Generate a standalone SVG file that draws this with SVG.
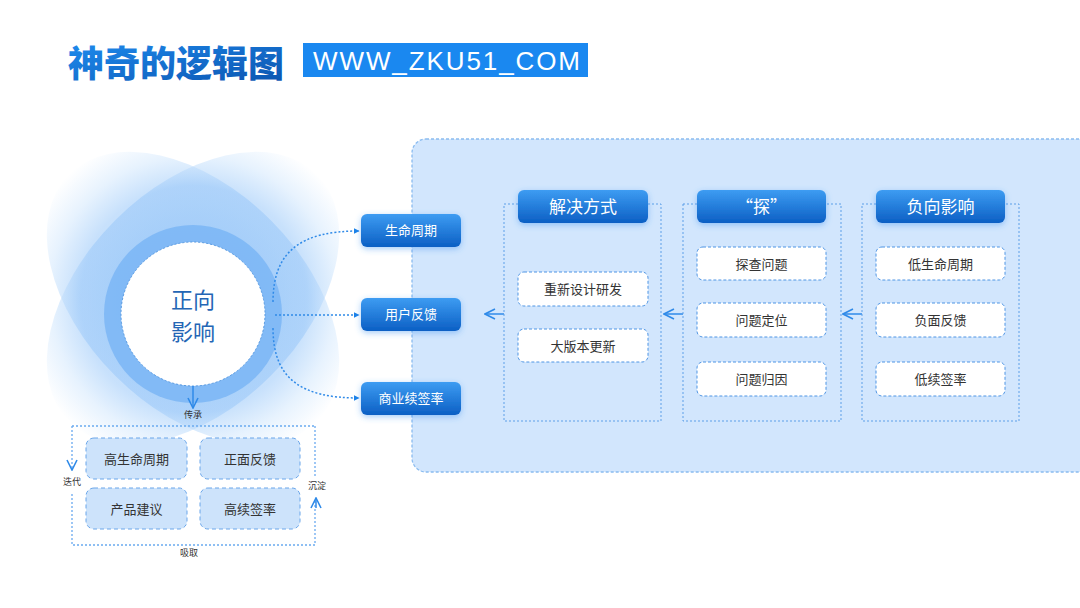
<svg xmlns="http://www.w3.org/2000/svg" width="1080" height="608" viewBox="0 0 1080 608">
<defs>
<linearGradient id="titleG" x1="0" y1="0" x2="1" y2="1">
<stop offset="0" stop-color="#1f8ff2"/><stop offset="1" stop-color="#0b52ad"/>
</linearGradient>
<linearGradient id="btnG" x1="0" y1="0" x2="0" y2="1">
<stop offset="0" stop-color="#3d9cf2"/><stop offset="1" stop-color="#0c5fc4"/>
</linearGradient>
<radialGradient id="petalG" cx="193" cy="300" r="175" gradientUnits="userSpaceOnUse">
<stop offset="0" stop-color="#7db8f6"/><stop offset="0.65" stop-color="#9ac8f9"/><stop offset="0.82" stop-color="#d3e8fd"/><stop offset="1" stop-color="#ffffff"/>
</radialGradient>
<filter id="glow" x="-20%" y="-30%" width="140%" height="170%">
<feDropShadow dx="0" dy="2" stdDeviation="3" flood-color="#3a8ff0" flood-opacity="0.45"/>
</filter>
<marker id="tri" viewBox="0 0 10 10" refX="9" refY="5" markerWidth="6" markerHeight="6" orient="auto" markerUnits="userSpaceOnUse">
<path d="M0,0 L10,5 L0,10 z" fill="#1a80e8"/>
</marker>
<marker id="chev" viewBox="0 0 12 12" refX="11" refY="6" markerWidth="12" markerHeight="12" orient="auto" markerUnits="userSpaceOnUse">
<path d="M1,1 L11,6 L1,11" fill="none" stroke="#2f8ae8" stroke-width="1.6"/>
</marker>
</defs>
<style>
.cjk{font-family:"Noto Sans CJK SC","Noto Sans",sans-serif;}
.btn{fill:url(#btnG);filter:url(#glow);}
.btxt{fill:#ffffff;font-size:13px;text-anchor:middle;}
.htxt{fill:#ffffff;font-size:17px;text-anchor:middle;}
.grp{fill:none;stroke:#5c9fe8;stroke-width:1;stroke-dasharray:2 2;}
.item{fill:#ffffff;stroke:#4f95e4;stroke-width:1;stroke-dasharray:3 2;}
.itxt{fill:#333333;font-size:13px;text-anchor:middle;}
.litem{fill:#cde3fb;stroke:#6aa6ea;stroke-width:1;stroke-dasharray:4 3;}
.small{fill:#333333;font-size:9px;text-anchor:middle;}
.dash{fill:none;stroke:#2f8ae8;stroke-width:1.5;stroke-dasharray:2 2;}
.solid{fill:none;stroke:#2f8ae8;stroke-width:1.5;}
.ldash{fill:none;stroke:#6aaaf0;stroke-width:1.3;stroke-dasharray:2 2;}
.petal{fill:url(#petalG);opacity:0.55;}
</style>
<rect width="1080" height="608" fill="#ffffff"/>

<g id="title">
<text x="68" y="77" class="cjk" font-size="36" font-weight="900" fill="url(#titleG)">神奇的逻辑图</text>
<rect x="303" y="43" width="285" height="34" fill="#1a88f0"/>
<text x="313" y="70" font-family="'Liberation Sans',Arial,sans-serif" font-size="26" fill="#ffffff" textLength="267" lengthAdjust="spacing">WWW_ZKU51_COM</text>
</g>

<g id="panel">
<rect x="412" y="139" width="700" height="333" rx="14" fill="#d2e6fd" stroke="#8bbcf0" stroke-width="1.3" stroke-dasharray="3 2"/>
</g>

<g id="center-node">
<ellipse class="petal" cx="193" cy="298" rx="175" ry="110" transform="rotate(45 193 298)"/>
<ellipse class="petal" cx="193" cy="298" rx="175" ry="110" transform="rotate(-45 193 298)"/>
<circle cx="193" cy="314" r="89" fill="#7db7f5" opacity="0.9"/>
<circle cx="193" cy="314" r="72" fill="#ffffff" stroke="#5a9ae0" stroke-width="1" stroke-dasharray="2 2"/>
<text x="193" y="308" class="cjk" font-size="22" fill="#2466b5" text-anchor="middle">正向</text>
<text x="193" y="340" class="cjk" font-size="22" fill="#2466b5" text-anchor="middle">影响</text>
</g>

<g id="connectors">
<path class="dash" d="M273,302 C273,252 300,231 359,231" marker-end="url(#tri)"/>
<path class="dash" d="M275,315 L359,315" marker-end="url(#tri)"/>
<path class="dash" d="M273,328 C273,378 300,398 359,398" marker-end="url(#tri)"/>
<path class="solid" d="M862,314 L843,314" marker-end="url(#chev)"/>
<path class="solid" d="M683,314 L664,314" marker-end="url(#chev)"/>
<path class="solid" d="M504,314 L485,314" marker-end="url(#chev)"/>
<path class="solid" d="M193,386 L193,408" marker-end="url(#chev)"/>
<path class="ldash" d="M72,426 L315,426"/>
<path class="ldash" d="M72,426 L72,470" marker-end="url(#chev)"/>
<path class="ldash" d="M72,494 L72,545 L315,545 L315,500"/>
<path class="solid" d="M316,508 L316,498" marker-end="url(#chev)"/>
<path class="ldash" d="M315,426 L315,476"/>
</g>

<g id="labels-left" class="cjk">
<text x="193" y="418" class="small">传承</text>
<text x="72" y="485" class="small">迭代</text>
<text x="317" y="489" class="small">沉淀</text>
<text x="189" y="556" class="small">吸取</text>
</g>

<g id="node-high-life" class="cjk"><rect class="litem" x="86" y="438" width="101" height="41" rx="8"/><text x="136.5" y="464" class="itxt">高生命周期</text></g>
<g id="node-pos-feedback" class="cjk"><rect class="litem" x="200" y="438" width="100" height="41" rx="8"/><text x="250" y="464" class="itxt">正面反馈</text></g>
<g id="node-product" class="cjk"><rect class="litem" x="86" y="488" width="101" height="41" rx="8"/><text x="136.5" y="514" class="itxt">产品建议</text></g>
<g id="node-high-renew" class="cjk"><rect class="litem" x="200" y="488" width="100" height="41" rx="8"/><text x="250" y="514" class="itxt">高续签率</text></g>

<g id="node-lifecycle" class="cjk"><rect class="btn" x="361" y="214" width="100" height="33" rx="6"/><text x="411" y="235" class="btxt">生命周期</text></g>
<g id="node-feedback" class="cjk"><rect class="btn" x="361" y="298" width="100" height="33" rx="6"/><text x="411" y="319" class="btxt">用户反馈</text></g>
<g id="node-renew" class="cjk"><rect class="btn" x="361" y="382" width="100" height="33" rx="6"/><text x="411" y="403" class="btxt">商业续签率</text></g>

<g id="group-solution" class="cjk">
<rect class="grp" x="504" y="204" width="157" height="217"/>
<rect class="btn" x="518" y="190" width="130" height="33" rx="6"/>
<text x="583" y="213" class="htxt">解决方式</text>
<rect class="item" x="518" y="272" width="130" height="34" rx="6"/><text x="583" y="294" class="itxt">重新设计研发</text>
<rect class="item" x="518" y="329" width="130" height="33" rx="6"/><text x="583" y="351" class="itxt">大版本更新</text>
</g>

<g id="group-explore" class="cjk">
<rect class="grp" x="683" y="204" width="158" height="217"/>
<rect class="btn" x="697" y="190" width="129" height="33" rx="6"/>
<text x="761.5" y="213" class="htxt">“探”</text>
<rect class="item" x="697" y="247" width="129" height="33" rx="6"/><text x="761.5" y="269" class="itxt">探查问题</text>
<rect class="item" x="697" y="303" width="129" height="34" rx="6"/><text x="761.5" y="325" class="itxt">问题定位</text>
<rect class="item" x="697" y="362" width="129" height="34" rx="6"/><text x="761.5" y="384" class="itxt">问题归因</text>
</g>

<g id="group-negative" class="cjk">
<rect class="grp" x="862" y="204" width="157" height="217"/>
<rect class="btn" x="876" y="190" width="129" height="33" rx="6"/>
<text x="940.5" y="213" class="htxt">负向影响</text>
<rect class="item" x="876" y="247" width="129" height="33" rx="6"/><text x="940.5" y="269" class="itxt">低生命周期</text>
<rect class="item" x="876" y="303" width="129" height="34" rx="6"/><text x="940.5" y="325" class="itxt">负面反馈</text>
<rect class="item" x="876" y="362" width="129" height="34" rx="6"/><text x="940.5" y="384" class="itxt">低续签率</text>
</g>
</svg>
